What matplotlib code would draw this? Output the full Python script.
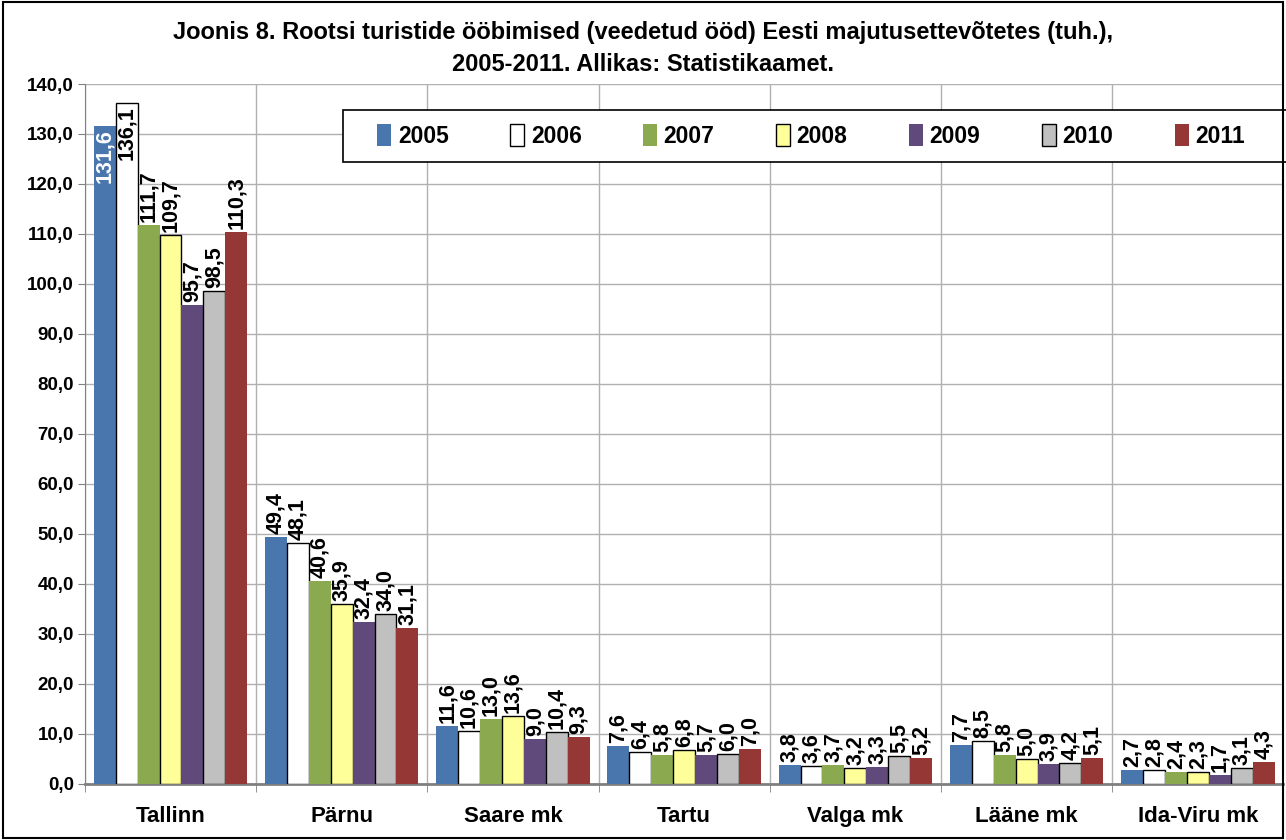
import matplotlib.pyplot as plt
import numpy as np
from matplotlib.patches import Rectangle

plt.rcParams['font.family'] = ['Liberation Sans', 'DejaVu Sans']
plt.rcParams['font.weight'] = 'bold'

regions = ["Tallinn", "Pärnu", "Saare mk", "Tartu", "Valga mk", "Lääne mk", "Ida-Viru mk"]
years = ["2005", "2006", "2007", "2008", "2009", "2010", "2011"]
v2005 = [131.6, 49.4, 11.6, 7.6, 3.8, 7.7, 2.7]
v2006 = [136.1, 48.1, 10.6, 6.4, 3.6, 8.5, 2.8]
v2007 = [111.7, 40.6, 13.0, 5.8, 3.7, 5.8, 2.4]
v2008 = [109.7, 35.9, 13.6, 6.8, 3.2, 5.0, 2.3]
v2009 = [95.7, 32.4, 9.0, 5.7, 3.3, 3.9, 1.7]
v2010 = [98.5, 34.0, 10.4, 6.0, 5.5, 4.2, 3.1]
v2011 = [110.3, 31.1, 9.3, 7.0, 5.2, 5.1, 4.3]
series = [v2005, v2006, v2007, v2008, v2009, v2010, v2011]

colors = ["#4A76AE", "#FFFFFF", "#8BA94E", "#FFFF99", "#604A7B", "#C0C0C0", "#953735"]
edges = ["none", "black", "none", "black", "none", "black", "none"]

fig = plt.figure(figsize=(12.86, 8.4), dpi=100)
ax = fig.add_axes([0.066, 0.0667, 0.932, 0.8333])

x = np.arange(len(regions))
w = 0.128
for i, vals in enumerate(series):
    pos = x - 3 * w + i * w
    ax.bar(pos, vals, w, color=colors[i], edgecolor=edges[i], linewidth=1.0,
           label=years[i], zorder=3)
    for xp, v in zip(pos, vals):
        txt = f"{v:.1f}".replace(".", ",")
        if v > 130:
            ax.text(xp, v - 0.6, txt, rotation=90, ha="center", va="top",
                    fontsize=15.5, fontweight="bold",
                    color="white" if i == 0 else "black", zorder=4)
        else:
            ax.text(xp, v + 0.6, txt, rotation=90, ha="center", va="bottom",
                    fontsize=15.5, fontweight="bold", zorder=4)

ax.set_xlim(-0.5, len(regions) - 0.5)
ax.set_ylim(0, 140)
ax.set_yticks(np.arange(0, 141, 10))
ax.set_yticklabels([f"{t:.1f}".replace(".", ",") for t in np.arange(0, 141, 10)],
                   fontsize=13.5, fontweight="bold")
ax.set_xticks(x)
ax.set_xticklabels(regions, fontsize=16, fontweight="bold")
ax.tick_params(axis="x", length=0, pad=16)
ax.tick_params(axis="y", length=5, direction="out", color="#808080", pad=3)
ax.set_xticks(np.arange(-0.5, len(regions) - 0.4, 1), minor=True)
ax.tick_params(axis="x", which="minor", length=6, color="#808080", direction="out")

ax.grid(axis="y", color="#B0B0B0", linewidth=1, zorder=0)
ax.grid(axis="x", which="minor", color="#B0B0B0", linewidth=1, zorder=0)
ax.grid(axis="x", which="major", visible=False)
for s in ["top", "right"]:
    ax.spines[s].set_visible(False)
ax.spines["left"].set_color("#808080")
ax.spines["bottom"].set_color("#808080")
ax.spines["bottom"].set_linewidth(2)

# legend box runs off the right edge, as in the original
ax.add_patch(Rectangle((0.2154, 0.8886), 0.80, 0.0743, transform=ax.transAxes,
                       facecolor="white", edgecolor="black", linewidth=1.2,
                       clip_on=False, zorder=4))
leg = ax.legend(loc="center", bbox_to_anchor=(0.244, 0.896, 0.724, 0.06),
                mode="expand", ncol=7, fontsize=16.5, frameon=False,
                handlelength=0.6, handleheight=1.1, handletextpad=0.3,
                borderaxespad=0, borderpad=0)
leg.set_zorder(5)
for t in leg.get_texts():
    t.set_fontweight("bold")

fig.text(0.5, 0.961, "Joonis 8. Rootsi turistide ööbimised (veedetud ööd) Eesti majutusettevõtetes (tuh.),",
         ha="center", va="center", fontsize=17, fontweight="bold")
fig.text(0.5, 0.923, "2005-2011. Allikas: Statistikaamet.",
         ha="center", va="center", fontsize=17, fontweight="bold")

fig.patches.append(Rectangle((0.002, 0.002), 0.996, 0.996, transform=fig.transFigure,
                             fill=False, edgecolor="black", linewidth=1.5))

fig.savefig("out.png", dpi=100)
